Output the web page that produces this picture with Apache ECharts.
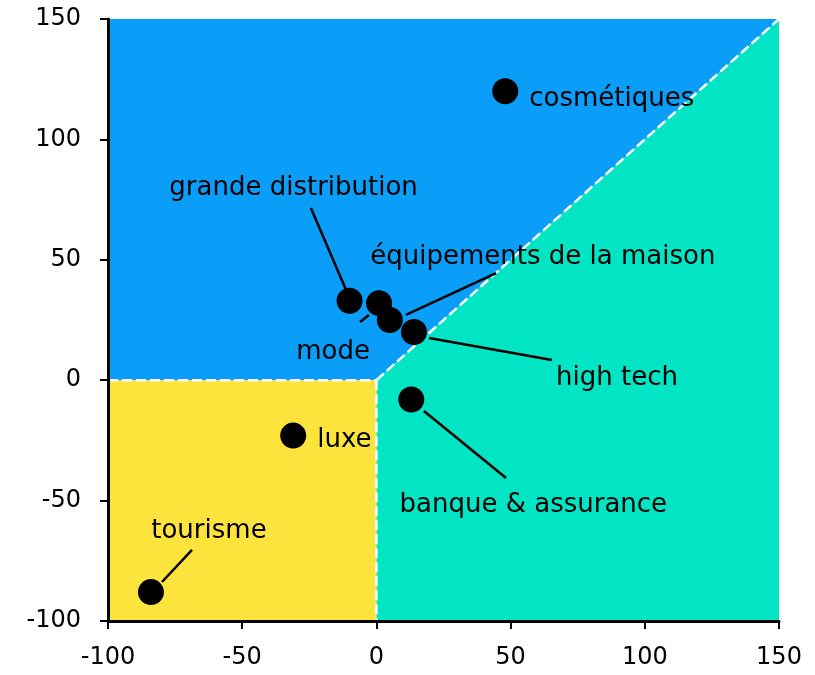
<!DOCTYPE html>
<html>
<head>
<meta charset="utf-8">
<script src="https://cdn.jsdelivr.net/npm/echarts@6/dist/echarts.min.js"></script>
<style>
  html, body { margin: 0; padding: 0; background: #fff; }
  #chart { width: 815px; height: 675px; }
</style>
</head>
<body>
<div id="chart"></div>
<script>
var names = ['cosmétiques', 'grande distribution', 'mode', 'équipements de la maison', 'high tech', 'banque & assurance', 'luxe', 'tourisme'];
var xValues = [48, -10, 1, 5, 14, 13, -31, -84];
var yValues = [120, 33, 32, 25, 20, -8, -23, -88];
var axisTicks = [-100, -50, 0, 50, 100, 150];

// zones du fond
var zoneBlue = [[-100, 0], [0, 0], [150, 150], [-100, 150]];
var zoneTeal = [[0, 0], [150, 150], [150, -100], [0, -100]];
var zoneYellow = [[-100, -100], [0, -100], [0, 0], [-100, 0]];
var borders = [[[-100, 0], [0, 0]], [[0, 0], [150, 150]], [[0, 0], [0, -100]]];

// traits de rappel
var leaders = [
  [-24.4, 71.5, -11.3, 37.5],
  [11, 27.1, 44.6, 44.5],
  [-6.1, 24.2, -2.8, 27.1],
  [19.6, 17.5, 65.4, 8.4],
  [17.7, -12.8, 48.3, -40.6],
  [-79.9, -83.8, -68.7, -70.5]
];

var font = 'DejaVu Sans';
var labelPos = [
  { position: 'right', distance: 11, offset: [0, 8] },
  { position: 'inside', offset: [-56, -112] },
  { position: 'inside', offset: [-46, 49] },
  { position: 'inside', offset: [153, -63] },
  { position: 'inside', offset: [203, 46] },
  { position: 'inside', offset: [122, 106] },
  { position: 'right', distance: 11, offset: [0, 5] },
  { position: 'inside', offset: [58, -61] }
];

var points = names.map(function (n, i) {
  return {
    name: n,
    value: [xValues[i], yValues[i]],
    label: labelPos[i]
  };
});

function zone(color, pts) {
  return {
    type: 'custom',
    silent: true,
    z: 1,
    data: [0],
    renderItem: function (params, api) {
      return {
        type: 'polygon',
        shape: { points: pts.map(function (p) { return api.coord(p); }) },
        style: { fill: color }
      };
    }
  };
}

function axis(margin) {
  return {
    type: 'value', min: -100, max: 150, interval: 50,
    z: 10,
    splitLine: { show: false },
    axisLine: { onZero: false, lineStyle: { color: '#000', width: 3 } },
    axisTick: { length: 8, lineStyle: { color: '#000', width: 2 } },
    axisLabel: { color: '#000', fontSize: 24, fontFamily: font, margin: margin }
  };
}

var chart = echarts.init(document.getElementById('chart'));
chart.setOption({
  animation: false,
  grid: { left: 108, right: 36, top: 19, bottom: 54 },
  xAxis: axis(25),
  yAxis: axis(27),
  series: [
    zone('#0a9ef8', zoneBlue),
    zone('#02e5c5', zoneTeal),
    zone('#fde43c', zoneYellow),
    {
      type: 'custom',
      silent: true,
      z: 2,
      data: borders.map(function (b, i) { return i; }),
      renderItem: function (params, api) {
        var b = borders[params.dataIndex];
        var a = api.coord(b[0]), c = api.coord(b[1]);
        return {
          type: 'line',
          shape: { x1: a[0], y1: a[1], x2: c[0], y2: c[1] },
          style: { stroke: '#fff', lineWidth: 2.5, lineDash: [10, 4] }
        };
      }
    },
    {
      type: 'custom',
      silent: true,
      z: 3,
      data: leaders,
      renderItem: function (params, api) {
        var a = api.coord([api.value(0), api.value(1)]);
        var c = api.coord([api.value(2), api.value(3)]);
        return {
          type: 'line',
          shape: { x1: a[0], y1: a[1], x2: c[0], y2: c[1] },
          style: { stroke: '#000', lineWidth: 2.5 }
        };
      }
    },
    {
      type: 'scatter',
      z: 4,
      symbolSize: 26,
      itemStyle: { color: '#000', opacity: 1 },
      label: {
        show: true,
        formatter: '{b}',
        color: '#000',
        fontSize: 26,
        fontFamily: font
      },
      data: points
    }
  ]
});
window.addEventListener('resize', function () { chart.resize(); });
</script>
</body>
</html>
